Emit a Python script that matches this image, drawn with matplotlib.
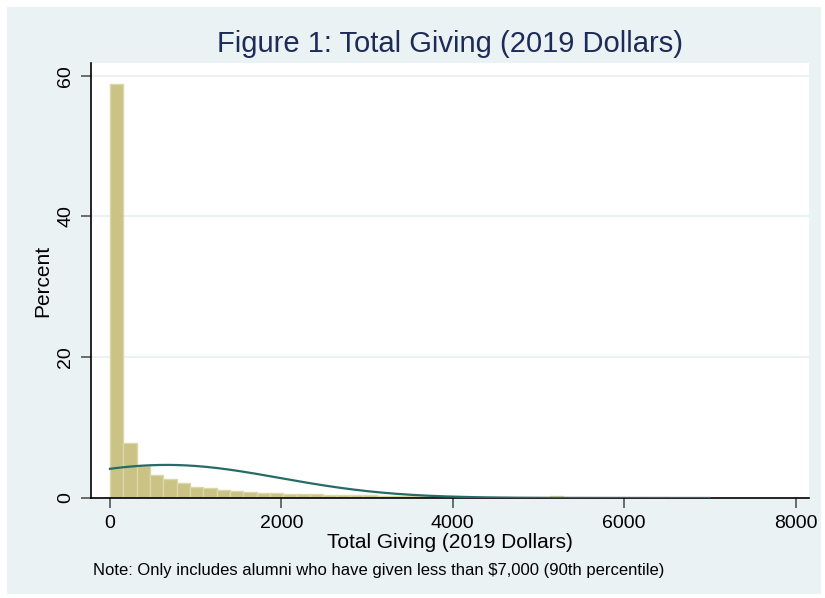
import numpy as np
import matplotlib
matplotlib.use("Agg")
from matplotlib import pyplot as plt
from matplotlib.patches import Rectangle

plt.rcParams['font.family'] = ['Liberation Sans', 'DejaVu Sans']

# histogram: 45 bins from 0 to 7000 dollars, percent per bin
bin_lo = 0
bin_hi = 7000
n_bins = 45
percent = [58.8, 7.8, 4.5, 3.3, 2.7, 2.13, 1.55, 1.35, 1.15, 1.0,
           0.85, 0.75, 0.68, 0.62, 0.6, 0.5, 0.47, 0.42, 0.4, 0.36,
           0.33, 0.3, 0.28, 0.26, 0.24, 0.22, 0.22, 0.2, 0.2, 0.18,
           0.17, 0.16, 0.14, 0.22, 0.12, 0.11, 0.1, 0.1, 0.09, 0.09,
           0.08, 0.08, 0.07, 0.07, 0.07]

# normal density overlay (mean / sd estimated from the curve)
norm_mean = 660
norm_sd = 1320

xticks = [0, 2000, 4000, 6000, 8000]
yticks = [0, 20, 40, 60]

bg = '#EAF2F3'
bar_fill = '#CAC385'
bar_edge = '#DCD7A9'
curve_col = '#256B66'
title_col = '#1E2B58'

W, H = 825, 598
fig = plt.figure(figsize=(W / 100, H / 100), dpi=100, facecolor='white')
# graph region (light blue-grey), leaving a thin white border
fig.patches.append(Rectangle((7 / W, 4 / H), (W - 11) / W, (H - 11) / H,
                             transform=fig.transFigure, facecolor=bg,
                             edgecolor='none', zorder=-10))

ax = fig.add_axes([91 / W, (H - 498) / H, (809 - 91) / W, (498 - 63) / H])
ax.set_facecolor('white')

width = (bin_hi - bin_lo) / n_bins
edges = bin_lo + width * np.arange(n_bins)
ax.bar(edges, percent, width=width, align='edge', color=bar_fill,
       edgecolor=bar_edge, linewidth=1.0, zorder=2)

xs = np.linspace(bin_lo, bin_hi, 400)
dens = 100 * width * np.exp(-0.5 * ((xs - norm_mean) / norm_sd) ** 2) / (norm_sd * np.sqrt(2 * np.pi))
ax.plot(xs, dens, color=curve_col, linewidth=1.6, zorder=3)

ax.set_xlim(-222, 8157)
ax.set_ylim(0, 61.8)
ax.set_xticks(xticks)
ax.set_yticks(yticks)
ax.set_yticklabels([str(v) for v in yticks], rotation=90, va='center')
ax.tick_params(axis='both', length=7, width=1.2, color='#555555',
               labelsize=14, pad=5)

ax.grid(axis='y', color=bg, linewidth=1.5, zorder=1)
ax.set_axisbelow(True)
for s in ['top', 'right']:
    ax.spines[s].set_visible(False)
for s in ['left', 'bottom']:
    ax.spines[s].set_color('black')
    ax.spines[s].set_linewidth(1.2)

ax.set_xlabel('Total Giving (2019 Dollars)', fontsize=15, labelpad=1)
ax.set_ylabel('Percent', fontsize=15, labelpad=4)

fig.text(450 / W, 1 - 44 / H, 'Figure 1: Total Giving (2019 Dollars)',
         ha='center', va='center', fontsize=21, color=title_col)
fig.text(93 / W, 1 - 570 / H,
         'Note: Only includes alumni who have given less than $7,000 (90th percentile)',
         ha='left', va='center', fontsize=12, color='black')

fig.savefig('out.png', dpi=100, facecolor='white')
